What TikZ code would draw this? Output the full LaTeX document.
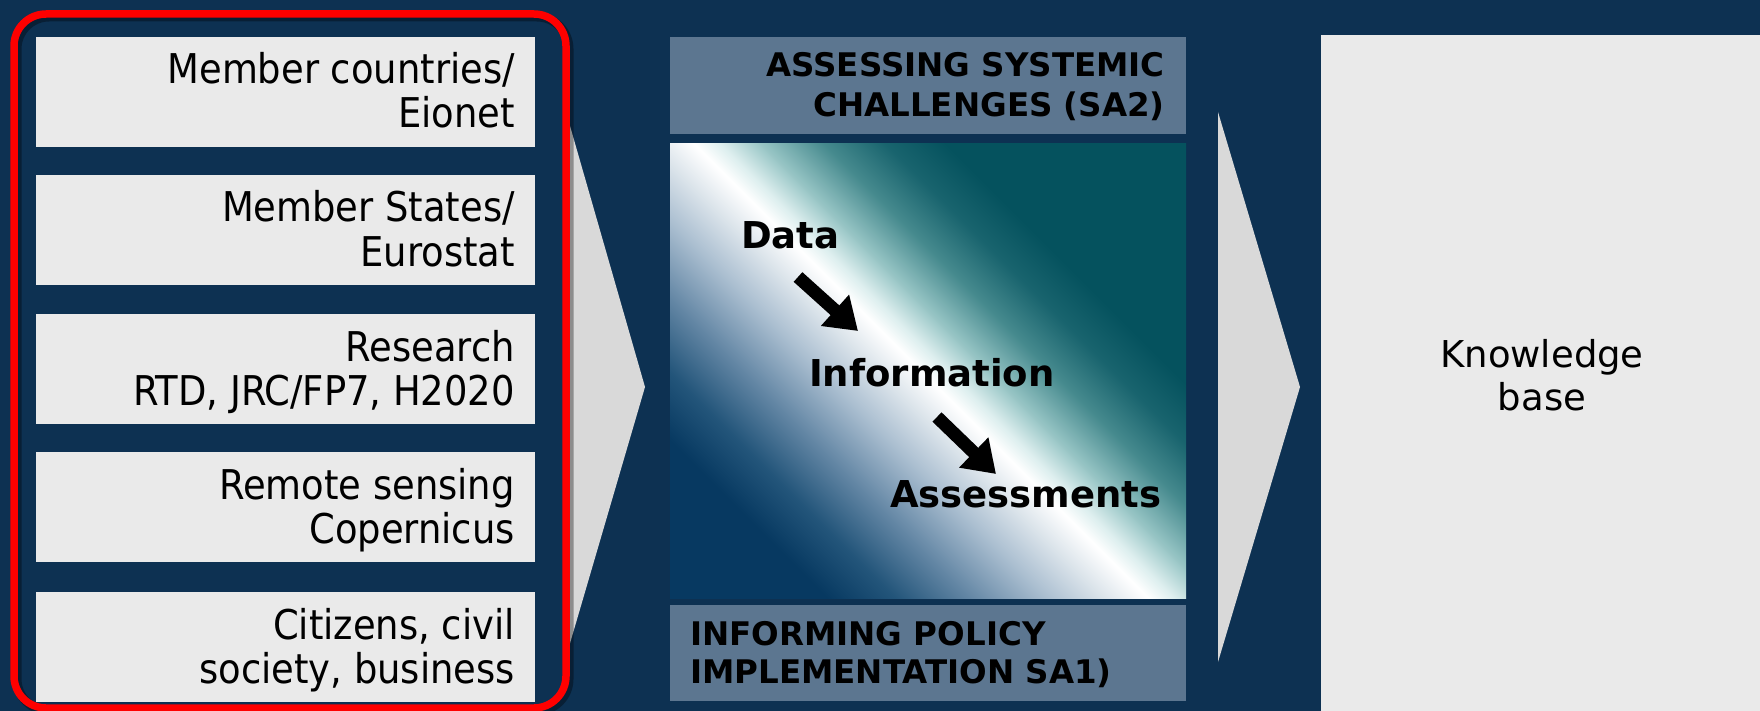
\documentclass[tikz,border=0pt]{standalone}
\usepackage{fontspec}
\setmainfont{DejaVu Sans}
\newfontfamily\condfont{DejaVu Sans Condensed}
\usetikzlibrary{arrows.meta}

\definecolor{navy}{RGB}{13,49,82}
\definecolor{boxgrey}{RGB}{234,234,234}
\definecolor{chevgrey}{RGB}{217,217,217}
\definecolor{slate}{RGB}{92,118,144}
\definecolor{redline}{RGB}{255,0,0}
\definecolor{gzero}{RGB}{7,57,97}
\definecolor{gone}{RGB}{35,85,122}
\definecolor{gtwo}{RGB}{100,135,165}
\definecolor{gthree}{RGB}{170,190,208}
\definecolor{gfour}{RGB}{222,230,236}
\definecolor{tone}{RGB}{220,238,238}
\definecolor{ttwo}{RGB}{150,196,196}
\definecolor{tthree}{RGB}{70,138,142}
\definecolor{tfour}{RGB}{25,100,110}
\definecolor{tfive}{RGB}{5,82,94}

\pgfdeclarehorizontalshading{diagflow}{100bp}{color(0bp)=(gzero); color(26bp)=(gzero); color(31bp)=(gone); color(36.5bp)=(gtwo); color(42bp)=(gthree); color(46.5bp)=(gfour); color(49.5bp)=(white); color(51.5bp)=(tone); color(54.5bp)=(ttwo); color(59bp)=(tthree); color(63.5bp)=(tfour); color(68bp)=(tfive); color(100bp)=(tfive)}

\tikzset{
  srcbox/.style={fill=boxgrey, minimum width=499pt, minimum height=110pt, inner sep=0pt, anchor=north west},
  srctext/.style={font=\condfont\fontsize{41}{44}\selectfont, anchor=base east, inner sep=0pt, text=black},
  titlebox/.style={fill=slate, minimum width=516pt, inner sep=0pt, anchor=north west},
  titletext/.style={font=\bfseries\fontsize{32.5}{40}\selectfont, inner sep=0pt, text=black},
  flowtext/.style={font=\bfseries\fontsize{37}{40}\selectfont, anchor=base west, inner sep=0pt, text=black},
  kbtext/.style={font=\fontsize{37}{44}\selectfont, anchor=base, inner sep=0pt, text=black},
  flowarrow/.style={draw=black, line width=13pt, -{Triangle[length=31pt,width=40pt]}},
  chevron/.style={fill=chevgrey},
}

\begin{document}
\begin{tikzpicture}[x=1pt,y=-1pt]
\useasboundingbox (0,0) rectangle (1760,711);
\clip (0,0) rectangle (1760,711);
\fill[navy] (0,0) rectangle (1760,711);

% chevrons
\fill[chevron] (566,112) -- (645,387) -- (566,657) -- cycle;
\fill[chevron] (1218,112) -- (1300,387) -- (1218,662) -- cycle;

% red frame with shadow
\draw[black, opacity=0.35, line width=9pt, rounded corners=32pt] (17,17) rectangle (569,711);
\draw[redline, line width=7.5pt, rounded corners=32pt] (14,14) rectangle (566,708);

% source boxes
\node[srcbox] (s1) at (36,37) {};
\node[srcbox] (s2) at (36,175) {};
\node[srcbox] (s3) at (36,314) {};
\node[srcbox] (s4) at (36,452) {};
\node[srcbox] (s5) at (36,592) {};

\node[srctext] (s1a) at (515,84) {Member countries/};
\node[srctext] (s1b) at (515,128) {Eionet};
\node[srctext] (s2a) at (515,222) {Member States/};
\node[srctext] (s2b) at (515,266) {Eurostat};
\node[srctext] (s3a) at (515,361) {Research};
\node[srctext] (s3b) at (515,405) {RTD, JRC/FP7, H2020};
\node[srctext] (s4a) at (515,499) {Remote sensing};
\node[srctext] (s4b) at (515,543) {Copernicus};
\node[srctext] (s5a) at (515,639) {Citizens, civil};
\node[srctext] (s5b) at (515,683) {society, business};

% middle column
\node[titlebox, minimum height=97pt] (sa2) at (670,37) {};
\node[titletext, anchor=base east] (sa2a) at (1165,77) {ASSESSING SYSTEMIC};
\node[titletext, anchor=base east] (sa2b) at (1165,117) {CHALLENGES (SA2)};

\fill[shading=diagflow, shading angle=45] (670,144) rectangle (1186,598);
\coordinate (grad) at (928,371);

\node[titlebox, minimum height=96pt] (sa1) at (670,605) {};
\node[titletext, anchor=base west] (sa1a) at (690,645) {INFORMING POLICY};
\node[titletext, anchor=base west] (sa1b) at (690,683) {IMPLEMENTATION SA1)};

\node[flowtext] (data) at (741,249) {Data};
\node[flowtext] (info) at (809,386) {Information};
\node[flowtext] (assess) at (890,507) {Assessments};

\coordinate (a1s) at (798,277);
\coordinate (a1e) at (858,331);
\coordinate (a2s) at (937,417);
\coordinate (a2e) at (996,474);
\draw[flowarrow] (a1s) -- (a1e);
\draw[flowarrow] (a2s) -- (a2e);

% knowledge base
\node[fill=boxgrey, minimum width=439pt, minimum height=676pt, inner sep=0pt, anchor=north west] (kb) at (1321,35) {};
\node[kbtext] (kba) at (1542,367) {Knowledge};
\node[kbtext] (kbb) at (1542,410) {base};
\end{tikzpicture}
\end{document}
